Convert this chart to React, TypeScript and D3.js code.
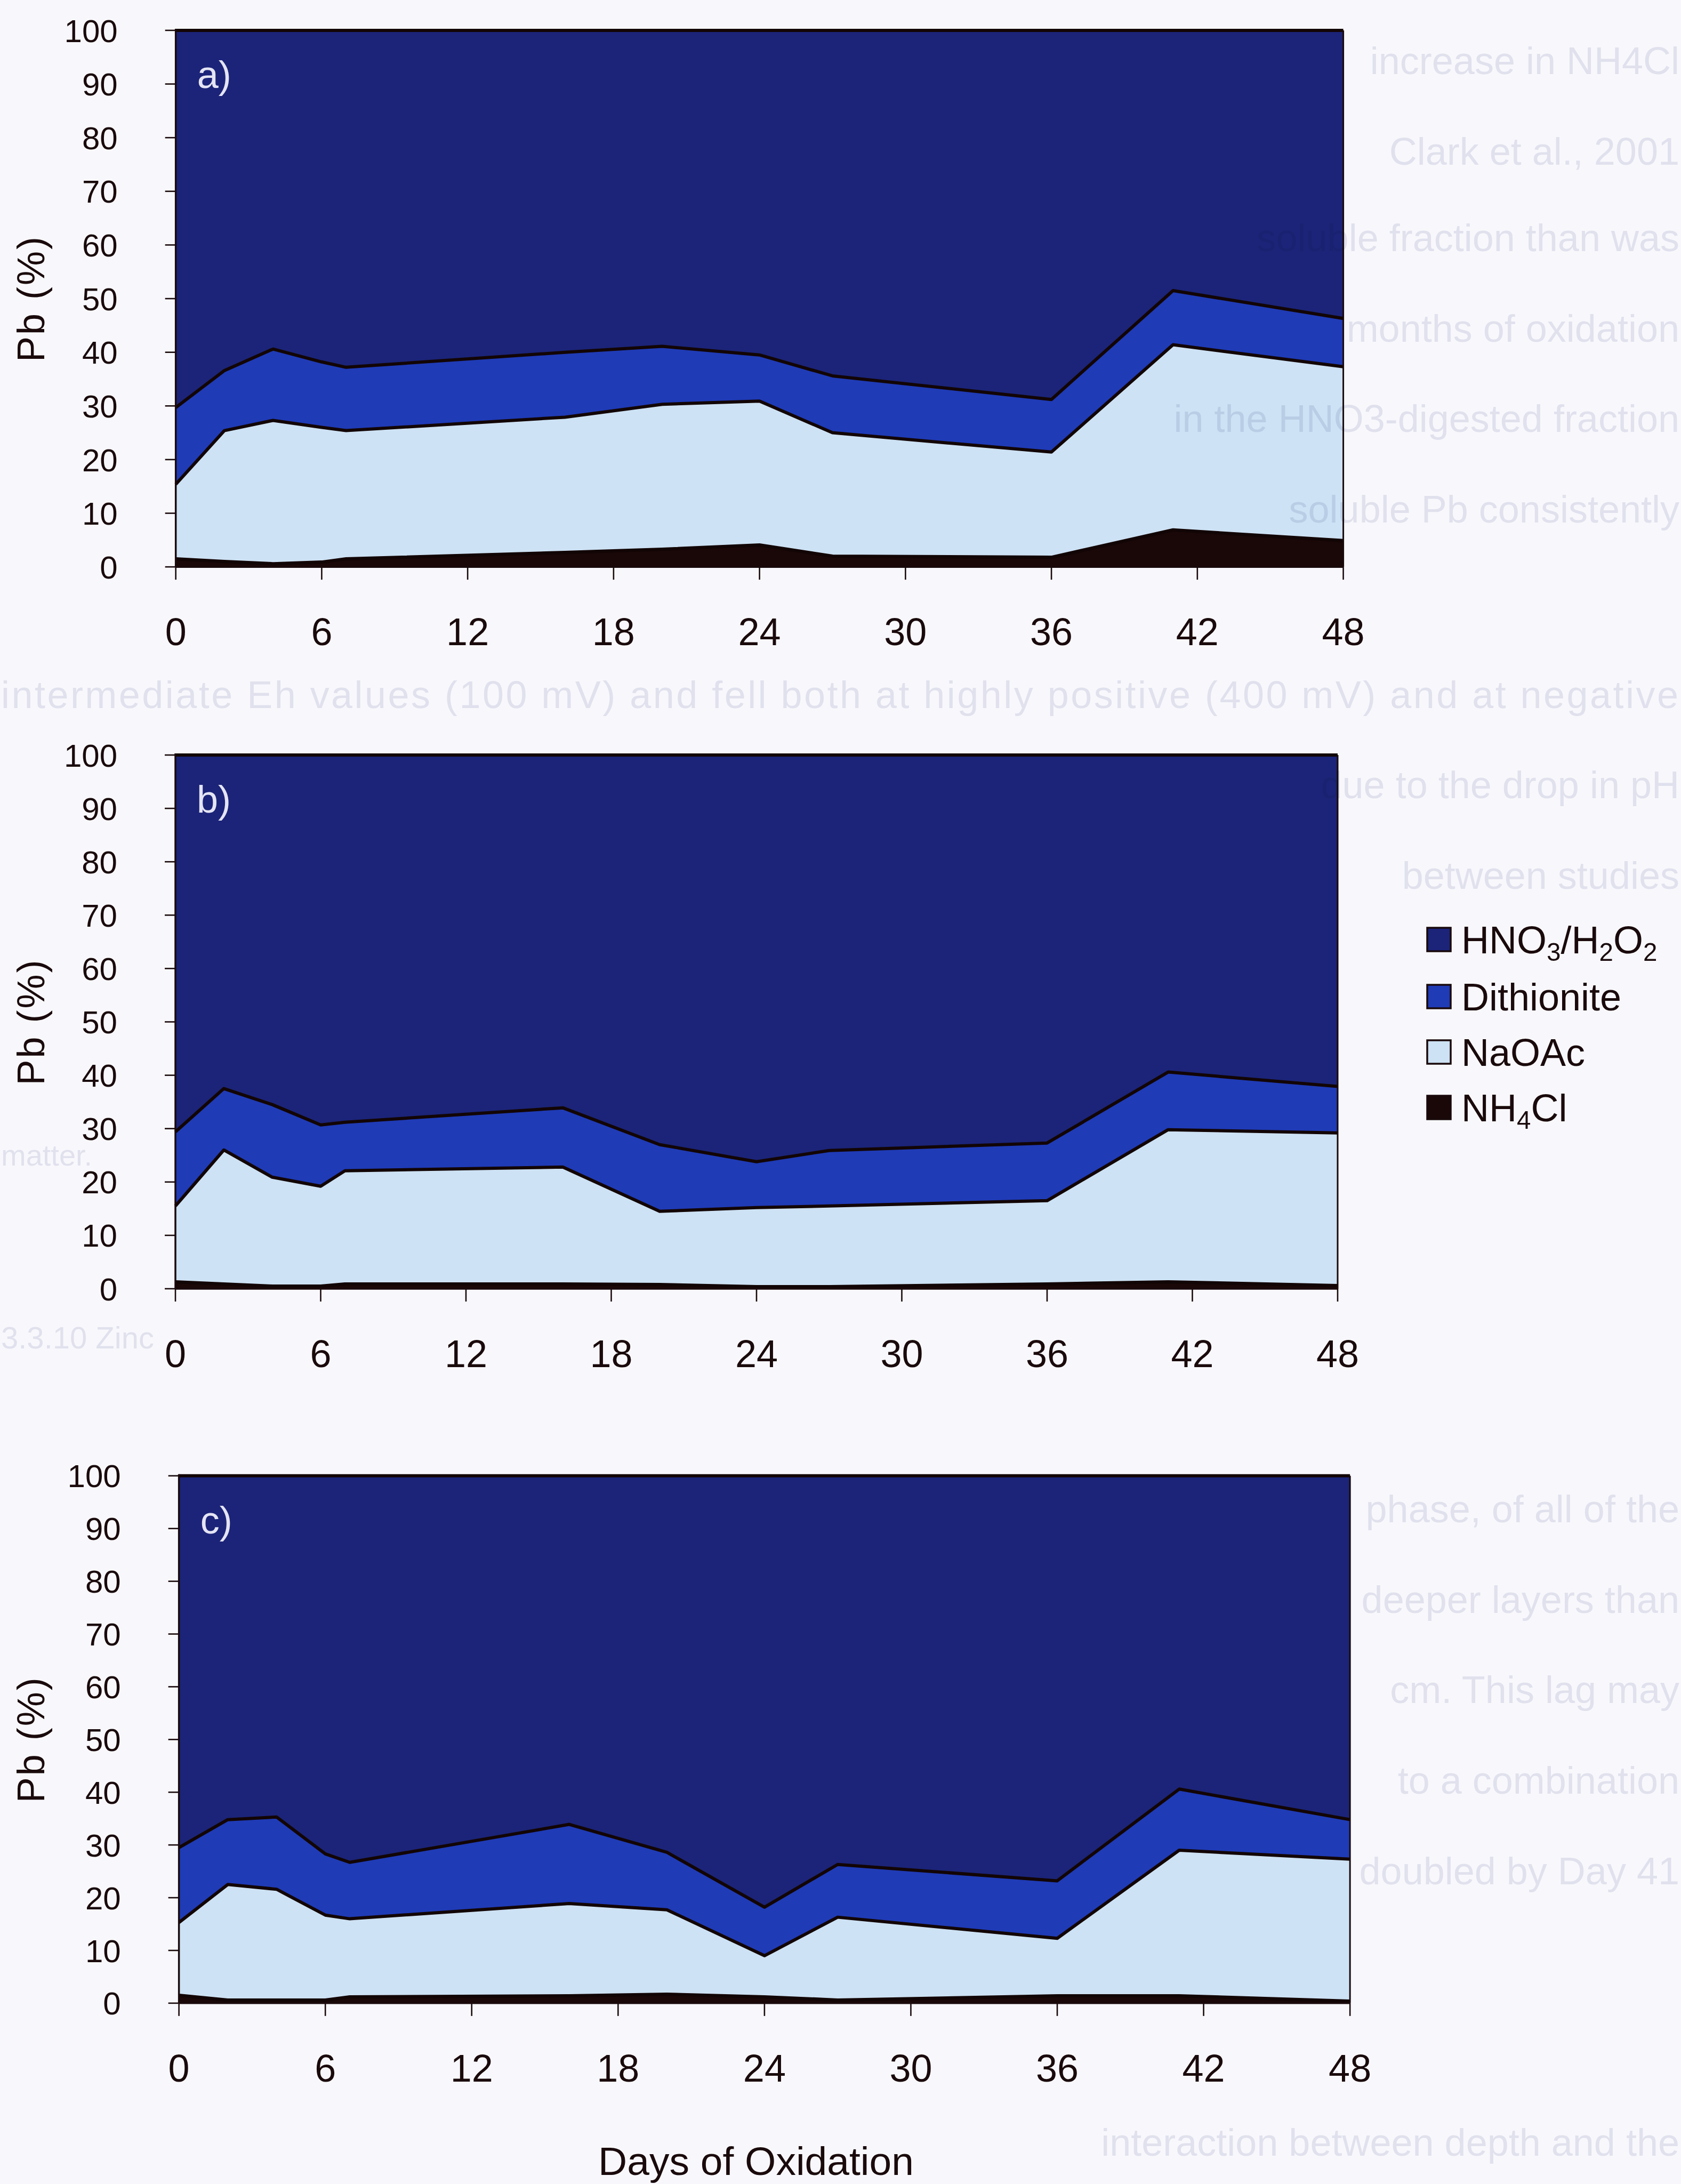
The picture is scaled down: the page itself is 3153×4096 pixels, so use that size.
import React, { useEffect } from "react";
import * as d3 from "d3";

const W = 3153;
const H = 4096;
const S = 0.662;

// Sampling days (x values shared by every series)
const days = [0, 2, 4, 6, 7, 16, 20, 24, 27, 36, 41, 48];

// Pb fractions (%) per extraction step
const aNH4Cl = [1.5, 1.0, 0.6, 0.9, 1.5, 2.7, 3.3, 4.1, 2.0, 1.8, 6.9, 4.9];
const aNaOAc = [13.9, 24.4, 26.7, 25.1, 23.9, 25.2, 27.0, 26.8, 23.0, 19.6, 34.5, 32.4];
const aDithionite = [14.3, 11.2, 13.3, 12.2, 11.8, 12.1, 10.8, 8.6, 10.6, 9.8, 10.1, 9.0];
const aHNO3 = [70.3, 63.4, 59.4, 61.8, 62.8, 60.0, 58.9, 60.5, 64.4, 68.8, 48.5, 53.7];

const bNH4Cl = [1.3, 0.9, 0.5, 0.5, 0.9, 0.9, 0.8, 0.4, 0.4, 0.9, 1.3, 0.6];
const bNaOAc = [14.2, 25.1, 20.4, 18.7, 21.2, 21.9, 13.7, 14.8, 15.1, 15.6, 28.5, 28.6];
const bDithionite = [13.9, 11.5, 13.6, 11.5, 9.1, 11.1, 12.5, 8.6, 10.4, 10.8, 10.8, 8.7];
const bHNO3 = [70.6, 62.5, 65.5, 69.3, 68.8, 66.1, 73.0, 76.2, 74.1, 72.7, 59.4, 62.1];

const cNH4Cl = [1.5, 0.6, 0.6, 0.6, 1.2, 1.4, 1.7, 1.2, 0.6, 1.4, 1.4, 0.4];
const cNaOAc = [13.8, 21.9, 21.0, 16.1, 14.8, 17.5, 16.0, 7.8, 15.7, 10.9, 27.6, 26.9];
const cDithionite = [14.2, 12.3, 13.7, 11.6, 10.7, 15.0, 10.9, 9.2, 10.0, 10.9, 11.6, 7.5];
const cHNO3 = [70.5, 65.2, 64.7, 71.7, 73.3, 66.1, 71.4, 81.8, 73.7, 76.8, 59.4, 65.2];

const yTicks = [0, 10, 20, 30, 40, 50, 60, 70, 80, 90, 100];
const xTicks = [0, 6, 12, 18, 24, 30, 36, 42, 48];

const keys = ["NH4Cl", "NaOAc", "Dithionite", "HNO3"];
const colors: Record<string, string> = {
  HNO3: "#1b2478",
  Dithionite: "#1f3bb6",
  NaOAc: "#cde2f4",
  NH4Cl: "#1a0707",
};

const FONT = "'Liberation Sans', Arial, Helvetica, sans-serif";
const INK = "#1a0a0c";

type PanelDef = {
  letter: string;
  series: Record<string, number[]>;
  box: [number, number, number, number];
};

const panels: PanelDef[] = [
  {
    letter: "a)",
    series: { NH4Cl: aNH4Cl, NaOAc: aNaOAc, Dithionite: aDithionite, HNO3: aHNO3 },
    box: [498, 86, 3806, 1606],
  },
  {
    letter: "b)",
    series: { NH4Cl: bNH4Cl, NaOAc: bNaOAc, Dithionite: bDithionite, HNO3: bHNO3 },
    box: [497, 2139, 3790, 3651],
  },
  {
    letter: "c)",
    series: { NH4Cl: cNH4Cl, NaOAc: cNaOAc, Dithionite: cDithionite, HNO3: cHNO3 },
    box: [507, 4181, 3825, 5675],
  },
];

function Panel({ def }: { def: PanelDef }) {
  const [bx0, by0, bx1, by1] = def.box.map((v) => v * S);
  const x = d3.scaleLinear().domain([0, 48]).range([bx0, bx1]);
  const y = d3.scaleLinear().domain([0, 100]).range([by1, by0]);

  const rows = days.map((d, i) => {
    const r: any = { day: d };
    keys.forEach((k) => (r[k] = def.series[k][i]));
    return r;
  });
  const stacked = d3.stack<any>().keys(keys)(rows);

  const area = d3
    .area<any>()
    .x((d) => x(d.data.day))
    .y0((d) => y(d[0]))
    .y1((d) => y(Math.min(100, d[1])));
  const line = d3
    .line<any>()
    .x((d) => x(d.data.day))
    .y((d) => y(Math.min(100, d[1])));

  return (
    <g>
      {stacked.map((layer) => (
        <path key={layer.key} d={area(layer) || ""} fill={colors[layer.key]} />
      ))}
      {stacked.map((layer) => (
        <path
          key={"l" + layer.key}
          d={line(layer) || ""}
          fill="none"
          stroke="#120505"
          strokeWidth={6}
          strokeLinejoin="round"
        />
      ))}
      {/* frame */}
      <line x1={bx1} x2={bx1} y1={by0} y2={by1} stroke={INK} strokeWidth={3} />
      <line x1={bx0} x2={bx0} y1={by0 - 3} y2={by1} stroke={INK} strokeWidth={3.5} />
      <line x1={bx0} x2={bx1} y1={by1} y2={by1} stroke={INK} strokeWidth={3.5} />
      {/* y axis */}
      {yTicks.map((t) => (
        <g key={"y" + t}>
          <line x1={bx0 - 20} x2={bx0} y1={y(t)} y2={y(t)} stroke={INK} strokeWidth={2.6} />
          <text
            x={bx0 - 109}
            y={y(t)}
            dy="0.36em"
            textAnchor="end"
            fontSize={60}
            fontFamily={FONT}
            fill={INK}
          >
            {t}
          </text>
        </g>
      ))}
      {/* x axis */}
      {xTicks.map((t) => (
        <g key={"x" + t}>
          <line x1={x(t)} x2={x(t)} y1={by1} y2={by1 + 24} stroke={INK} strokeWidth={2.6} />
          <text
            x={x(t)}
            y={by1 + 121}
            dy="0.36em"
            textAnchor="middle"
            fontSize={72}
            fontFamily={FONT}
            fill={INK}
          >
            {t}
          </text>
        </g>
      ))}
      <text x={bx0 + 40} y={by0 + 108} fontSize={72} fontFamily={FONT} fill="#e4e4f4">
        {def.letter}
      </text>
      <text
        transform={`translate(${83},${(by0 + by1) / 2}) rotate(-90)`}
        textAnchor="middle"
        fontSize={72}
        fontFamily={FONT}
        fill={INK}
        letterSpacing={3}
      >
        Pb (%)
      </text>
    </g>
  );
}

type LegendItem = { key: string; parts: [string, boolean][] };
const legendItems: LegendItem[] = [
  { key: "HNO3", parts: [["HNO", false], ["3", true], ["/H", false], ["2", true], ["O", false], ["2", true]] },
  { key: "Dithionite", parts: [["Dithionite", false]] },
  { key: "NaOAc", parts: [["NaOAc", false]] },
  { key: "NH4Cl", parts: [["NH", false], ["4", true], ["Cl", false]] },
];

function Legend() {
  const rowY = [1762, 1869, 1973, 2077];
  const sx = 2677;
  const size = 44;
  const fs = 72;
  return (
    <g>
      {legendItems.map((it, i) => (
        <g key={it.key}>
          <rect
            x={sx}
            y={rowY[i] - size / 2}
            width={size}
            height={size}
            fill={colors[it.key]}
            stroke={INK}
            strokeWidth={3.5}
          />
          <text x={sx + 64} y={rowY[i] + fs * 0.36} fontSize={fs} fontFamily={FONT} fill={INK}>
            {it.parts.map(([s, sub], j) =>
              sub ? (
                <tspan key={j} fontSize={fs * 0.66} dy={fs * 0.2}>
                  {s}
                </tspan>
              ) : (
                <tspan key={j} dy={j > 0 && it.parts[j - 1][1] ? -fs * 0.2 : 0}>
                  {s}
                </tspan>
              )
            )}
          </text>
        </g>
      ))}
    </g>
  );
}

// Faint show-through of the facing page's text
const pageRight: { y: number; text: string }[] = [
  { y: 139, text: "increase in NH4Cl" },
  { y: 309, text: "Clark et al., 2001" },
  { y: 471, text: "soluble fraction than was" },
  { y: 641, text: "months of oxidation" },
  { y: 810, text: "in the HNO3-digested fraction" },
  { y: 980, text: "soluble Pb consistently" },
  { y: 1497, text: "due to the drop in pH" },
  { y: 1667, text: "between studies" },
  { y: 2855, text: "phase, of all of the" },
  { y: 3025, text: "deeper layers than" },
  { y: 3194, text: "cm. This lag may" },
  { y: 3364, text: "to a combination" },
  { y: 3534, text: "doubled by Day 41" },
  { y: 4043, text: "interaction between depth and the" },
];

export default function App() {
  useEffect(() => {
    document.body.style.margin = "0";
    document.body.style.overflow = "hidden";
  }, []);
  return (
    <svg
      width={W}
      height={H}
      viewBox={`0 0 ${W} ${H}`}
      style={{ position: "absolute", left: 0, top: 0, display: "block" }}
    >
      <rect x={0} y={0} width={W} height={H} fill="#f8f8fc" />
      {panels.map((p) => (
        <Panel key={p.letter} def={p} />
      ))}
      <Legend />
      <text x={1418} y={4079} textAnchor="middle" fontSize={75} fontFamily={FONT} fill={INK}>
        Days of Oxidation
      </text>
      <g style={{ mixBlendMode: "multiply" }} fill="#e7e8f0" fontFamily={FONT} fontSize={72}>
        {pageRight.map((l, i) => (
          <text key={i} x={3150} y={l.y} textAnchor="end">
            {l.text}
          </text>
        ))}
        <text x={2} y={1328} textLength={3146} lengthAdjust="spacing">
          intermediate Eh values (100 mV) and fell both at highly positive (400 mV) and at negative
        </text>
        <text x={2} y={2186} fontSize={56}>
          matter.
        </text>
        <text x={2} y={2529} fontSize={58}>
          3.3.10 Zinc
        </text>
      </g>
    </svg>
  );
}
